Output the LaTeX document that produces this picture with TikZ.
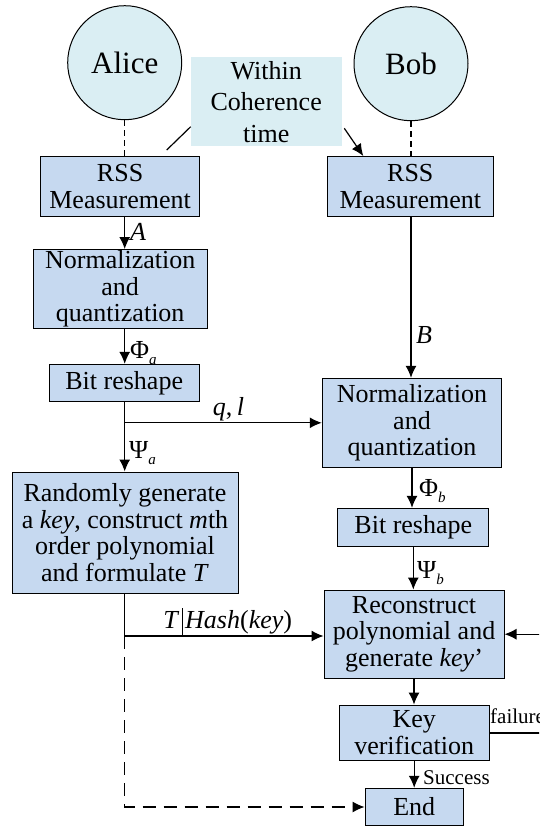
\documentclass[tikz,border=0pt]{standalone}
\usepackage{fontspec}
\setmainfont{LiberationSerif}[Extension=.ttf, UprightFont=*-Regular,
  ItalicFont=*-Italic, BoldFont=*-Bold, BoldItalicFont=*-BoldItalic]
\usetikzlibrary{arrows.meta}
\definecolor{boxblue}{HTML}{C6D9F0}
\definecolor{paleaqua}{HTML}{DAEEF3}
% small italic subscript for the data labels
\newcommand\subidx[1]{\raisebox{-6pt}{\fontsize{15}{15}\selectfont\itshape #1}}
\begin{document}
\begin{tikzpicture}[x=1pt,y=-1pt,
  stepbox/.style={draw=black, fill=boxblue, line width=1pt, inner sep=0pt,
    align=center, font=\fontsize{26}{26.7}\selectfont},
  party/.style={circle, draw=black, fill=paleaqua, line width=1pt, inner sep=0pt,
    minimum size=114pt, font=\fontsize{31}{36}\selectfont},
  note/.style={fill=paleaqua, inner sep=0pt, align=center,
    font=\fontsize{26}{31.5}\selectfont},
  flow/.style={line width=1.2pt, -{Latex[length=12pt,width=11pt]}},
  plainline/.style={line width=1.2pt},
  shortdash/.style={line width=1.2pt, dash pattern=on 6pt off 4pt},
  longdash/.style={line width=1.2pt, dash pattern=on 13pt off 8pt},
  lbl/.style={inner sep=0pt, font=\fontsize{26}{26}\selectfont},
  smalllbl/.style={inner sep=0pt, font=\fontsize{21}{21}\selectfont}]

\useasboundingbox (0,0) rectangle (539,828);
\clip (0,0) rectangle (539,828);

% the two parties
\node[party] (alice) at (124.7,62.7) {Alice};
\node[party] (bob) at (411,63.7) {Bob};
\node[note, minimum width=151pt, minimum height=88.7pt] (coh) at (266.2,101.7)
  {Within\\Coherence\\time};

% Alice's column
\node[stepbox, minimum width=158.8pt, minimum height=59.3pt] (rssA) at (120.1,186.4)
  {RSS\\Measurement};
\node[stepbox, minimum width=173.7pt, minimum height=78.8pt] (normA) at (120.2,288.9)
  {Normalization\\and\\quantization};
\node[stepbox, minimum width=150.3pt, minimum height=37.4pt] (bitA) at (124.2,383)
  {Bit reshape};
\node[stepbox, minimum width=226pt, minimum height=121pt] (randA) at (125,532.5)
  {Randomly generate\\a \textit{key}, construct \textit{m}th\\order polynomial\\and formulate \textit{T}};

% Bob's column
\node[stepbox, minimum width=166pt, minimum height=60.7pt] (rssB) at (410.3,186.4)
  {RSS\\Measurement};
\node[stepbox, minimum width=179.5pt, minimum height=89pt] (normB) at (412,422.8)
  {Normalization\\and\\quantization};
\node[stepbox, minimum width=151.3pt, minimum height=38pt] (bitB) at (413.3,527.3)
  {Bit reshape};
\node[stepbox, minimum width=180pt, minimum height=88.3pt] (recB) at (414,634.2)
  {Reconstruct\\polynomial and\\generate \textit{key}’};
\node[stepbox, minimum width=150.3pt, minimum height=55.7pt] (keyB) at (414.2,732.9)
  {Key\\verification};
\node[stepbox, minimum width=98.3pt, minimum height=37.4pt] (endB) at (414.2,807)
  {End};

% channel probing within the coherence time
\draw[shortdash] (alice.south) -- (alice.south |- rssA.north);
\draw[shortdash] (bob.south) -- (bob.south |- rssB.north);
\coordinate (cohL) at (190.7,126.7);
\coordinate (rssAin) at (166.7,150);
\draw[plainline] (cohL) -- (rssAin);
\coordinate (cohR) at (344.3,128.3);
\coordinate (rssBin) at (363.3,156);
\draw[flow] (cohR) -- (rssBin);

% Alice's processing chain
\draw[flow] (rssA.south -| alice.south) -- (normA.north -| alice.south);
\draw[flow] (normA.south -| alice.south) -- (bitA.north -| alice.south);
\draw[flow] (bitA.south -| alice.south) -- (randA.north -| alice.south);
\coordinate (ql) at (alice.south |- normB.west);
\draw[flow] (ql) -- (normB.west);

% Bob's processing chain
\draw[flow] (rssB.south -| bob.south) -- (normB.north -| bob.south);
\draw[flow] (normB.south) -- (bitB.north -| normB.south);
\draw[flow] (bitB.south) -- (recB.north -| bitB.south);
\draw[flow] (recB.south) -- (keyB.north -| recB.south);
\draw[flow] (keyB.south) -- (endB.north -| keyB.south);

% public transmission of T and the hash
\coordinate (split) at (124.5,636);
\draw[plainline] (randA.south -| split) -- (split);
\draw[flow] (split) -- (recB.west |- split);
\draw[longdash, -{Latex[length=12pt,width=11pt]}] (split) -- (split |- endB.west) -- (endB.west);

% retry loop on failed verification
\coordinate (loopA) at (560,732.9);
\coordinate (loopB) at (560,634.2);
\draw[plainline] (keyB.east) -- (loopA) -- (loopB);
\draw[flow] (loopB) -- (recB.east);

% labels
\node[lbl, anchor=base west] (labA) at (130,240) {\textit{A}};
\node[lbl, anchor=base west] (labPhiA) at (130,358) {Φ\subidx{a}};
\node[lbl, anchor=base west] (labPsiA) at (129,458) {Ψ\subidx{a}};
\node[lbl, anchor=base] (labQL) at (228.5,415) {\textit{q},\,\textit{l}};
\node[lbl, anchor=base west] (labB) at (416,343) {\textit{B}};
\node[lbl, anchor=base west] (labPhiB) at (419,496.5) {Φ\subidx{b}};
\node[lbl, anchor=base west] (labPsiB) at (417,578) {Ψ\subidx{b}};
\node[lbl, anchor=base east] (labT) at (179.5,628) {\textit{T}};
\node[lbl, anchor=base west] (labHash) at (185,628) {\textit{Hash}(\textit{key})};
\coordinate (barTop) at (182,608);
\coordinate (barBot) at (182,636);
\draw[line width=0.8pt] (barTop) -- (barBot);
\node[smalllbl, anchor=base west] (labOK) at (423,784) {Success};
\node[smalllbl, anchor=base west] (labFail) at (490,723) {failure};
\end{tikzpicture}
\end{document}
